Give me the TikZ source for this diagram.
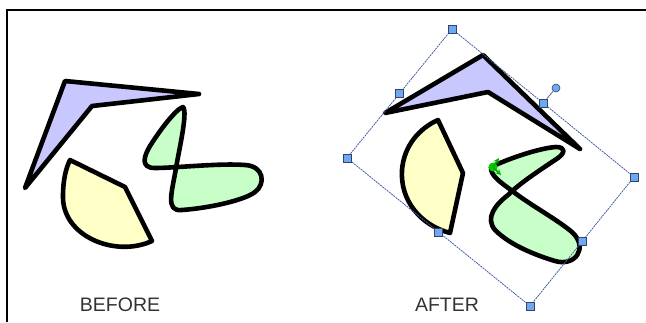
\documentclass[tikz,border=0pt]{standalone}
\usepackage{fontspec}
\setsansfont{Liberation Sans}
\usetikzlibrary{calc}
\definecolor{lavender}{RGB}{200,200,255}
\definecolor{paleyellow}{RGB}{255,255,200}
\definecolor{palegreen}{RGB}{200,255,200}
\definecolor{selblue}{RGB}{70,95,160}
\definecolor{handleblue}{RGB}{112,168,240}
\definecolor{labelgray}{RGB}{51,51,51}
\begin{document}
\begin{tikzpicture}[x=1pt, y=-1pt,
      outline/.style={draw=black, line width=4.6pt, line join=round, line cap=round},
      selbox/.style={draw=selblue, line width=0.8pt, dash pattern=on 2pt off 0.8pt},
      handle/.style={draw=selblue!70!black, fill=handleblue, line width=0.6pt,
        minimum size=8pt, inner sep=0pt},
      rothandle/.style={handle, circle, minimum size=8pt},
      pivotarrow/.style={green!70!black, line width=1.6pt, ->, >=stealth},
      label/.style={font=\sffamily\fontsize{19.5}{19.5}\selectfont, text=labelgray}]

    \useasboundingbox (0,0) rectangle (646,322);

    % frame
    \draw[line width=1.5pt] (7,322) -- (7,10) -- (646,10);

    % before
    \draw[outline, fill=lavender] (25,188) -- (65,81) -- (199,94) -- (92,106) -- cycle;
    \draw[outline, fill=paleyellow] (70,160) -- (125,187) -- (152,241)
      .. controls (115,258) and (62,236) .. (63,196)
      .. controls (63,180) and (66,168) .. (70,160) -- cycle;
    \draw[outline, fill=palegreen] (183,107)
      .. controls (188,112) and (179,150) .. (176,168)
      .. controls (172,192) and (165,212) .. (182,210)
      .. controls (210,208) and (245,200) .. (255,192)
      .. controls (266,184) and (264,166) .. (245,165)
      .. controls (220,163) and (175,168) .. (155,168)
      .. controls (140,168) and (144,156) .. (150,146)
      .. controls (160,130) and (176,109) .. (183,107) -- cycle;

    % after
    \draw[outline, fill=lavender] (385,113) -- (483,55) -- (580,149) -- (488,92) -- cycle;
    \draw[outline, fill=paleyellow] (438,120) -- (463,173) -- (450,233)
      .. controls (420,225) and (400,200) .. (402,170)
      .. controls (404,145) and (420,128) .. (438,120) -- cycle;
    \draw[outline, fill=palegreen] (491,167)
      .. controls (510,158) and (540,148) .. (556,147)
      .. controls (566,147) and (565,153) .. (558,158)
      .. controls (540,170) and (520,183) .. (508,195)
      .. controls (495,205) and (485,218) .. (495,230)
      .. controls (510,245) and (535,255) .. (555,261)
      .. controls (575,267) and (589,248) .. (572,232)
      .. controls (555,218) and (530,205) .. (511,190)
      .. controls (500,182) and (490,175) .. (491,167) -- cycle;

    % selection box
    \coordinate (nw) at (452,29);
    \coordinate (ne) at (634,177);
    \coordinate (se) at (530,306);
    \coordinate (sw) at (347,158);
    \draw[selbox] (nw) -- (ne) -- (se) -- (sw) -- cycle;
    \node[rothandle] (rot) at (556,88) {};
    \node[handle] (n) at ($(nw)!0.5!(ne)$) {};
    \draw[selblue!70!gray, line width=0.8pt] (n) -- (rot);
    \foreach \p in {nw,ne,se,sw} \node[handle] at (\p) {};
    \node[handle] (w) at ($(nw)!0.5!(sw)$) {};
    \node[handle] (e) at ($(ne)!0.5!(se)$) {};
    \node[handle] (s) at ($(sw)!0.5!(se)$) {};

    % pivot
    \node[circle, fill=green!80!black, minimum size=9pt, inner sep=0pt] (pivot) at (493,167) {};
    \draw[pivotarrow] (pivot.center) -- ++(6,-9);
    \draw[pivotarrow] (pivot.center) -- ++(8,8);

    % labels
    \node[label] (before) at (120,305) {BEFORE};
    \node[label] (after) at (447,305) {AFTER};
  \end{tikzpicture}
\end{document}
